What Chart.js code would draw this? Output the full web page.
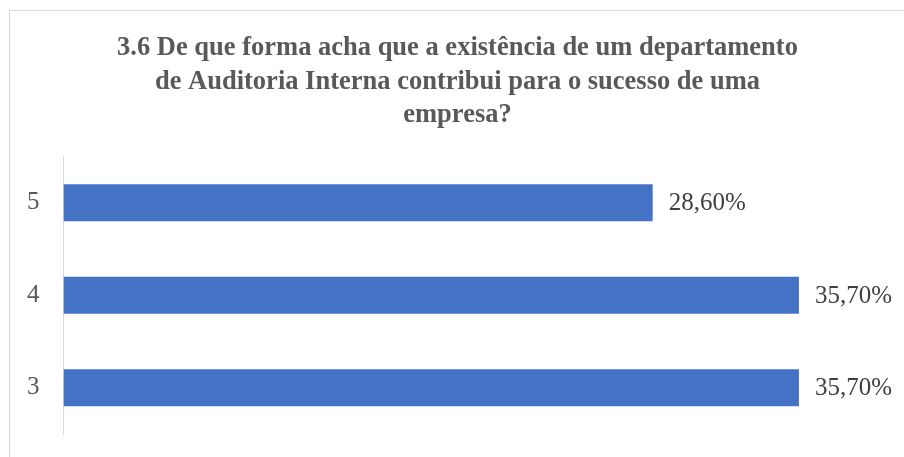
<!DOCTYPE html>
<html lang="pt">
<head>
  <meta charset="UTF-8" />
  <title>3.6 Auditoria Interna</title>
  <script src="https://cdn.jsdelivr.net/npm/chart.js"></script>
  <style>
    html, body { margin: 0; background: #fff; overflow: hidden; width: 904px; height: 457px; }
    #frame {
      position: absolute; left: 9px; top: 10px; width: 900px; height: 450px;
      border-left: 1px solid #d9d9d9; border-top: 1px solid #d9d9d9;
    }
    #wrap { position: absolute; left: 0; top: 0; width: 904px; height: 465px; }
  </style>
</head>
<body>
<div id="frame"></div>
<div id="wrap"><canvas id="chart"></canvas></div>
<script>
const categories = ['5', '4', '3'];
const values = [28.6, 35.7, 35.7];
const valueLabels = ['28,60%', '35,70%', '35,70%'];
const titleLines = [
  '3.6 De que forma acha que a existência de um departamento',
  'de Auditoria Interna contribui para o sucesso de uma',
  'empresa?'
];

// draws the value text just after the end of each bar
const barLabels = {
  id: 'barLabels',
  afterDatasetsDraw(chart) {
    const ctx = chart.ctx;
    const meta = chart.getDatasetMeta(0);
    ctx.save();
    ctx.font = '25px "Liberation Serif", "Times New Roman", serif';
    ctx.fillStyle = '#404040';
    ctx.textAlign = 'left';
    ctx.textBaseline = 'middle';
    meta.data.forEach((bar, i) => {
      ctx.fillText(valueLabels[i], bar.x + 16, bar.y + 1);
    });
    ctx.restore();
  }
};

new Chart(document.getElementById('chart'), {
  type: 'bar',
  data: {
    labels: categories,
    datasets: [{
      data: values,
      backgroundColor: '#4472c4',
      borderWidth: 0,
      categoryPercentage: 0.8,
      barPercentage: 0.5
    }]
  },
  options: {
    indexAxis: 'y',
    responsive: true,
    maintainAspectRatio: false,
    animation: false,
    layout: { autoPadding: false, padding: { left: 11, right: 0, top: 0, bottom: 15 } },
    plugins: {
      legend: { display: false },
      tooltip: { enabled: false },
      title: {
        display: true,
        text: titleLines,
        color: '#595959',
        font: { family: '"Liberation Serif", "Times New Roman", serif', size: 26.5, weight: 'bold', lineHeight: 1.25 },
        padding: { top: 32, bottom: 25 }
      }
    },
    scales: {
      x: { display: false, min: 0, max: 40.8 },
      y: {
        grid: { display: false },
        border: { display: true, color: '#d9d9d9', width: 1 },
        ticks: {
          color: '#595959',
          padding: 16,
          font: { family: '"Liberation Serif", "Times New Roman", serif', size: 25 }
        }
      }
    }
  },
  plugins: [barLabels]
});
</script>
</body>
</html>
